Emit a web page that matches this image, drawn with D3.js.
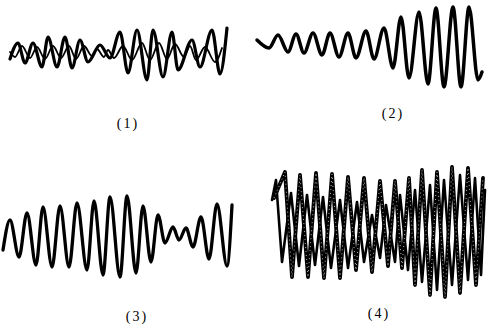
<!DOCTYPE html>
<html>
<head>
<meta charset="utf-8">
<script src="https://cdn.jsdelivr.net/npm/d3@7"></script>
<style>
  html, body { margin: 0; padding: 0; background: #fff; }
  svg { display: block; }
</style>
</head>
<body>
<div id="chart"></div>
<script>
// wave traces, [time, amplitude] at each turning point
const wave1a = [[0,-7],[8,9],[15,-11],[23,9],[32,-15],[38,15],[47,-15],[55,15],[62,-16],[70,12],[78,-10],[90,7],[100,-6],[110,20],[118,-21],[127,22],[137,-28],[143,22],[153,-25],[162,20],[168,-18],[182,12],[190,-15],[202,22],[210,-22],[217,24]]
const wave1b = [[0,0],[5,-5],[12,6],[20,-6],[27,5],[35,-7],[43,6],[51,-6],[59,6],[66,-7],[74,6],[82,-4],[87,3],[94,-5],[98,2],[104,-6],[113,6],[122,-8],[132,9],[140,-8],[149,9],[157,-7],[165,8],[174,-5],[180,6],[186,-8],[195,5],[205,-10],[212,4]]
const wave2 = [[0,5],[12,-3],[21,10],[31,-7],[39,11],[47,-8],[56,12],[65,-10],[73,12],[82,-12],[91,12],[99,-13],[109,14],[117,-14],[127,17],[136,-23],[144,28],[152,-33],[162,33],[171,-39],[179,37],[187,-42],[196,38],[204,-42],[212,38],[221,-35],[225,-27]]
const wave3 = [[0,-13],[7,17],[16,-20],[24,24],[33,-28],[40,30],[49,-30],[57,31],[66,-30],[74,34],[84,-33],[91,36],[100,-38],[107,40],[117,-40],[124,41],[133,-36],[140,31],[148,-25],[155,22],[162,-6],[170,10],[176,-3],[183,9],[190,-10],[198,20],[206,-22],[214,33],[224,-29],[229,32]]
const wave4a = [[2,27],[13,53],[20,-52],[28,50],[36,-52],[44,52],[52,-53],[60,51],[68,-53],[76,48],[84,-45],[92,47],[100,-47],[108,44],[116,-41],[123,44],[130,-43],[137,47],[143,-60],[150,55],[158,-70],[165,53],[173,-72],[180,58],[188,-68],[196,57],[204,-60],[211,47]]
const wave4b = [[0,25],[4,45],[10,-37],[19,32],[27,-41],[35,30],[43,-40],[51,28],[59,-43],[68,25],[76,-43],[85,23],[92,-37],[100,10],[108,-33],[114,20],[123,-37],[128,30],[136,-45],[143,35],[150,-57],[158,40],[165,-65],[172,45],[180,-60],[188,50],[196,-55],[203,47],[209,-50],[213,35]]

const labels = ['(1)', '(2)', '(3)', '(4)']

const width = 492
const height = 325

const svg = d3.select('#chart')
  .append('svg')
  .attr('width', width)
  .attr('height', height)

svg.append('rect').attr('width', width).attr('height', height).attr('fill', '#fff')

// one box per panel: left edge of the trace, its zero line, and where the caption goes
const panels = [
  { left: 10, mid: 52, labelX: 128, labelY: 128,
    lines: [{ data: wave1b, w: 1.8, curve: d3.curveMonotoneX }, { data: wave1a, w: 3.2, curve: d3.curveMonotoneX }] },
  { left: 257, mid: 45, labelX: 393, labelY: 118,
    lines: [{ data: wave2, w: 3.5, curve: d3.curveMonotoneX }] },
  { left: 3, mid: 237, labelX: 137, labelY: 321,
    lines: [{ data: wave3, w: 3.3, curve: d3.curveMonotoneX }] },
  { left: 272, mid: 225, labelX: 379, labelY: 318,
    lines: [{ data: wave4b, w: 2.6, curve: d3.curveLinear }, { data: wave4a, w: 3.8, curve: d3.curveLinear, speckle: true }] }
]

panels.forEach((p, i) => {
  const x = d3.scaleLinear().domain([0, 230]).range([p.left, p.left + 230])
  const y = d3.scaleLinear().domain([-80, 80]).range([p.mid + 80, p.mid - 80])
  const g = svg.append('g')

  p.lines.forEach(l => {
    const line = d3.line()
      .x(d => x(d[0]))
      .y(d => y(d[1]))
      .curve(l.curve)

    g.append('path')
      .datum(l.data)
      .attr('d', line)
      .attr('fill', 'none')
      .attr('stroke', '#000')
      .attr('stroke-width', l.w)
      .attr('stroke-linejoin', 'round')
      .attr('stroke-linecap', 'round')

    // scanned trace has white flecks running through it
    if (l.speckle) {
      g.append('path')
        .datum(l.data)
        .attr('d', line)
        .attr('fill', 'none')
        .attr('stroke', '#fff')
        .attr('stroke-width', 0.7)
        .attr('stroke-dasharray', '1 3')
    }
  })

  g.append('text')
    .attr('x', p.labelX)
    .attr('y', p.labelY)
    .attr('text-anchor', 'middle')
    .attr('font-family', '"Liberation Serif", "DejaVu Serif", serif')
    .attr('font-size', 14)
    .attr('letter-spacing', 2)
    .attr('fill', '#000')
    .text(labels[i])
})
</script>
</body>
</html>
